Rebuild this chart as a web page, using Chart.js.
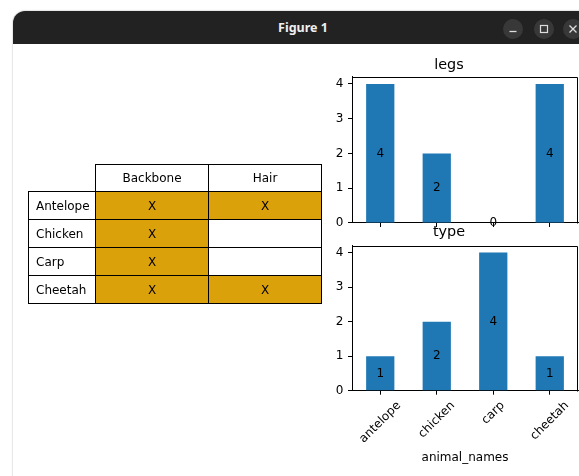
<!DOCTYPE html>
<html>
<head>
<meta charset="utf-8">
<script src="https://cdn.jsdelivr.net/npm/chart.js@4.4.1/dist/chart.umd.min.js"></script>
<style>
  html, body { margin: 0; padding: 0; background: #ffffff; width: 579px; height: 476px; overflow: hidden; position: relative; }
  #win { position: absolute; left: 13px; top: 11px; width: 580px; height: 480px; border-radius: 12px 12px 0 0; overflow: hidden; background: #ffffff; box-shadow: 0 0 2px rgba(0,0,0,0.35); }
  #bar { position: absolute; left: 0; top: 0; width: 100%; height: 33px; background: #222222; color: #f0f0f0; font: bold 12.5px "Noto Sans", sans-serif; text-align: center; line-height: 33px; }
  .btn { position: absolute; top: 19px; width: 20px; height: 20px; border-radius: 50%; background: #383838; }
  .btn svg { position: absolute; left: 0; top: 0; }
  canvas { position: absolute; }
  table { position: absolute; border-collapse: collapse; font: 12px "DejaVu Sans", sans-serif; color: #000; table-layout: fixed; }
  td { border: 1px solid #000; padding: 0; height: 27px; box-sizing: border-box; }
  td.lab { text-align: left; padding-left: 7px; }
  td.mid { text-align: center; }
  td.empty { border: none; }
</style>
</head>
<body>
<div id="win"><div id="bar">Figure 1</div></div>
<div class="btn" style="left:503px"><svg width="20" height="20"><line x1="6.5" y1="12.5" x2="13.5" y2="12.5" stroke="#dddddd" stroke-width="1.3"/></svg></div>
<div class="btn" style="left:534px"><svg width="20" height="20"><rect x="6.5" y="6.5" width="7" height="7" fill="none" stroke="#dddddd" stroke-width="1.2"/></svg></div>
<div class="btn" style="left:563px"><svg width="20" height="20"><path d="M6.5 6.5 L13.5 13.5 M13.5 6.5 L6.5 13.5" stroke="#dddddd" stroke-width="1.3"/></svg></div>

<canvas id="legsChart" width="259" height="185" style="left:320px;top:50px"></canvas>
<canvas id="typeChart" width="259" height="258" style="left:320px;top:218px"></canvas>

<script>
// Animal data shown in both the table and the bar charts
const animalNames = ['antelope', 'chicken', 'carp', 'cheetah'];
const legs = [4, 2, 0, 4];
const types = [1, 2, 4, 1];

// Table contents
const rowLabels = ['Antelope', 'Chicken', 'Carp', 'Cheetah'];
const colLabels = ['Backbone', 'Hair'];
const backbone = ['X', 'X', 'X', 'X'];
const hair = ['X', '', '', 'X'];

const FONT = '"DejaVu Sans", sans-serif';
const BAR_BLUE = '#1f77b4';
const CELL_GOLD = '#dba10b';

// ---- Table ----
(function buildTable() {
  const t = document.createElement('table');
  t.style.left = '28px';
  t.style.top = '164px';
  t.style.width = '293px';
  const cg = document.createElement('colgroup');
  [67, 113, 113].forEach(w => { const c = document.createElement('col'); c.style.width = w + 'px'; cg.appendChild(c); });
  t.appendChild(cg);
  const head = document.createElement('tr');
  const corner = document.createElement('td'); corner.className = 'empty'; head.appendChild(corner);
  colLabels.forEach(c => { const td = document.createElement('td'); td.className = 'mid'; td.textContent = c; head.appendChild(td); });
  t.appendChild(head);
  const cols = [backbone, hair];
  rowLabels.forEach((r, i) => {
    const tr = document.createElement('tr');
    const th = document.createElement('td'); th.className = 'lab'; th.textContent = r; tr.appendChild(th);
    cols.forEach(col => {
      const td = document.createElement('td'); td.className = 'mid';
      td.textContent = col[i];
      td.style.background = col[i] ? CELL_GOLD : '#ffffff';
      tr.appendChild(td);
    });
    tr.style.height = '28px';
    t.appendChild(tr);
  });
  head.style.height = '27px';
  document.body.appendChild(t);
})();

// ---- Bar charts ----
// Full box frame, values written at half bar height, and centred 45° category labels
const decor = {
  id: 'decor',
  afterDraw(chart, args, opts) {
    const { ctx, chartArea: a } = chart;
    const xs = chart.scales.x, ys = chart.scales.y;
    ctx.save();
    ctx.strokeStyle = '#000';
    ctx.lineWidth = 1;
    ctx.beginPath();
    ctx.moveTo(Math.round(a.left) + 0.5, Math.round(a.top) + 0.5);
    ctx.lineTo(Math.round(a.right) - 0.5, Math.round(a.top) + 0.5);
    ctx.lineTo(Math.round(a.right) - 0.5, Math.round(a.bottom) + 0.5);
    ctx.stroke();

    ctx.fillStyle = '#000';
    ctx.font = '12px ' + FONT;
    ctx.textAlign = 'center';
    ctx.textBaseline = 'middle';
    const vals = chart.data.datasets[0].data;
    vals.forEach((v, i) => {
      ctx.fillText(String(v), xs.getPixelForValue(i), ys.getPixelForValue(v / 2));
    });

    if (opts.rotatedLabels) {
      const h = 14;
      const c = Math.SQRT1_2;
      chart.data.labels.forEach((lab, i) => {
        const w = ctx.measureText(lab).width;
        const box = (w + h) * c;
        const cx = xs.getPixelForValue(i);
        const cy = a.bottom + 8 + box / 2;
        ctx.save();
        ctx.translate(cx, cy);
        ctx.rotate(-Math.PI / 4);
        ctx.fillText(lab, 0, 0);
        ctx.restore();
      });
    }
    ctx.restore();
  }
};

function makeBarChart(id, title, values, cfg) {
  return new Chart(document.getElementById(id), {
    type: 'bar',
    data: {
      labels: animalNames,
      datasets: [{ data: values, backgroundColor: BAR_BLUE, borderWidth: 0, barPercentage: 0.5, categoryPercentage: 1 }]
    },
    plugins: [decor],
    options: {
      responsive: false,
      animation: false,
      devicePixelRatio: 1,
      layout: { padding: { left: 0, right: 1, top: 0, bottom: 0 } },
      plugins: {
        legend: { display: false },
        tooltip: { enabled: false },
        title: {
          display: true, text: title, color: '#000',
          font: { family: FONT, size: 14.4, weight: 'normal', lineHeight: 1.2 },
          padding: cfg.titlePad
        },
        decor: { rotatedLabels: cfg.rotatedLabels }
      },
      scales: {
        x: {
          type: 'category',
          offset: true,
          grid: { display: true, drawOnChartArea: false, offset: false, tickLength: 4, color: '#000', tickWidth: 1 },
          border: { display: true, color: '#000', width: 1 },
          ticks: { display: false },
          title: {
            display: !!cfg.xTitle, text: cfg.xTitle || '', color: '#000',
            font: { family: FONT, size: 12 }, padding: { top: 0, bottom: 10.7 }
          },
          afterFit: s => { s.height = cfg.xHeight; }
        },
        y: {
          min: 0, max: 4.2,
          ticks: { stepSize: 1, includeBounds: false, color: '#000', font: { family: FONT, size: 12 }, padding: 4.5 },
          grid: { drawOnChartArea: false, tickLength: 4, color: '#000' },
          border: { display: true, color: '#000', width: 1 },
          afterFit: s => { s.width = 32; }
        }
      }
    }
  });
}

makeBarChart('legsChart', 'legs', legs, {
  titlePad: { top: 6.4, bottom: 3.3 },
  xHeight: 12,
  rotatedLabels: false
});
makeBarChart('typeChart', 'type', types, {
  titlePad: { top: 5.7, bottom: 4.7 },
  xHeight: 85.3,
  xTitle: 'animal_names',
  rotatedLabels: true
});
</script>
</body>
</html>
